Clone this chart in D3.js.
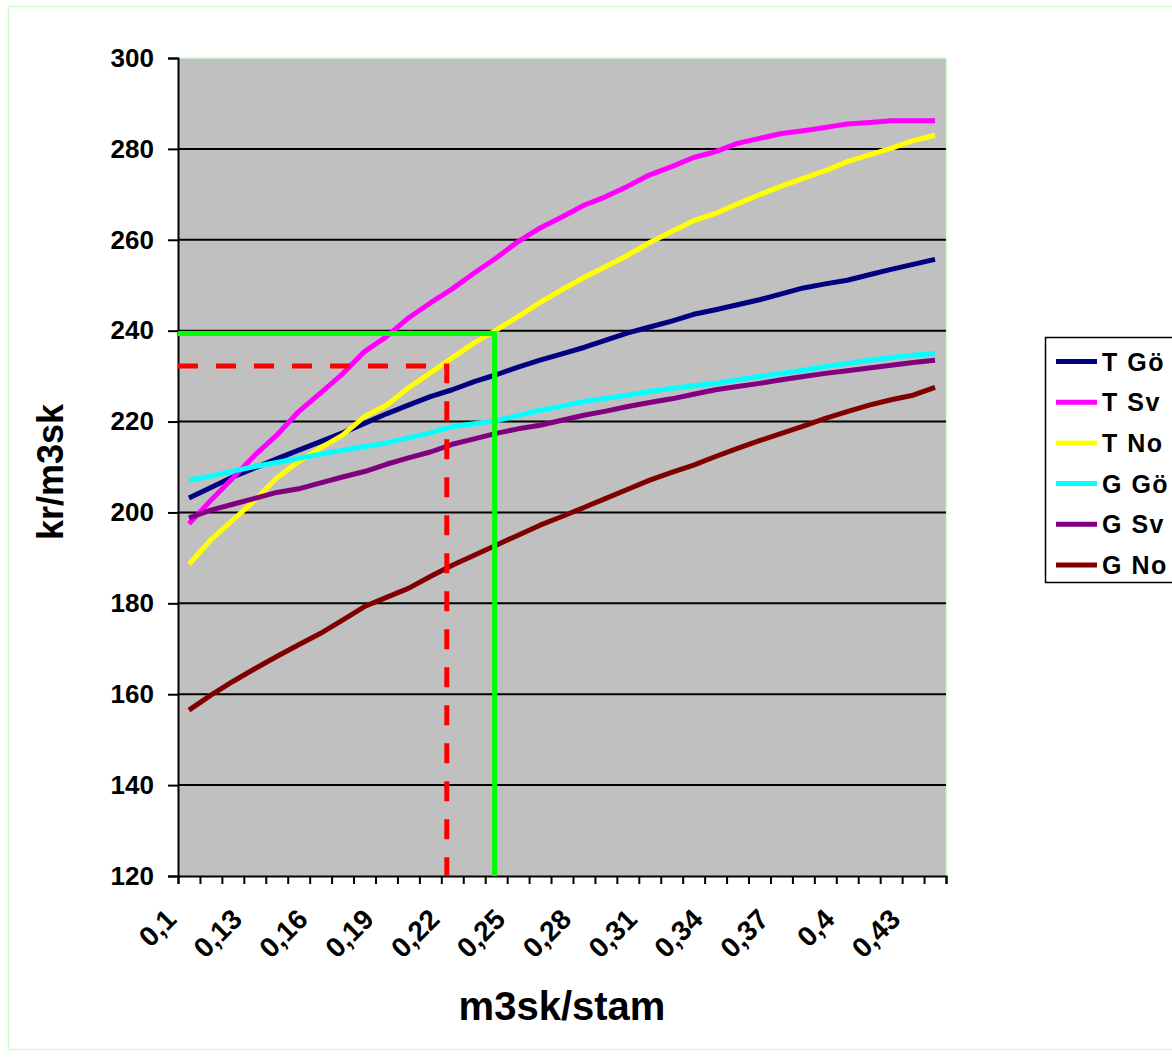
<!DOCTYPE html>
<html><head><meta charset="utf-8">
<script src="https://cdn.jsdelivr.net/npm/d3@7"></script>
<style>html,body{margin:0;padding:0;background:#fff;}svg{display:block;font-family:Arial,"Liberation Sans",sans-serif;}</style>
</head><body>
<svg id="chart" width="1172" height="1057"></svg>
<script>
const categories = [0.10,0.11,0.12,0.13,0.14,0.15,0.16,0.17,0.18,0.19,0.20,0.21,0.22,0.23,0.24,0.25,0.26,0.27,0.28,0.29,0.30,0.31,0.32,0.33,0.34,0.35,0.36,0.37,0.38,0.39,0.40,0.41,0.42,0.43,0.44];
const tickLabels = ["0,1","0,13","0,16","0,19","0,22","0,25","0,28","0,31","0,34","0,37","0,4","0,43"];
const yTicks = [120,140,160,180,200,220,240,260,280,300];
const seriesNames = ["T Gö","T Sv","T No","G Gö","G Sv","G No"];
const seriesColors = ["#000080","#ff00ff","#ffff00","#00ffff","#800080","#800000"];
const tGo = [203.2,205.5,207.8,209.8,211.8,213.7,215.6,217.5,219.6,221.7,223.6,225.5,227.0,228.8,230.3,232.0,233.5,234.9,236.3,237.9,239.5,240.8,242.1,243.6,244.6,245.7,246.8,248.1,249.4,250.3,251.1,252.3,253.5,254.6,255.7];
const tSv = [197.5,202.7,207.6,212.6,217.0,222.2,226.3,230.5,235.4,238.7,242.8,246.1,249.2,252.7,256.0,259.6,262.6,265.0,267.6,269.5,271.8,274.3,276.1,278.1,279.4,281.2,282.3,283.4,284.0,284.7,285.5,285.8,286.2,286.2,286.2];
const tNo = [188.6,194.0,198.3,202.7,207.6,211.2,214.2,217.0,221.1,223.6,227.4,230.7,234.0,237.3,240.1,243.1,246.2,249.0,251.7,254.1,256.6,259.4,261.8,264.2,265.8,267.9,269.9,271.8,273.5,275.2,277.2,278.7,280.1,281.8,283.0];
const gGo = [207.1,208.0,209.1,210.1,211.0,211.9,212.8,213.7,214.5,215.3,216.4,217.5,218.9,219.5,220.2,221.3,222.5,223.4,224.4,225.1,225.8,226.6,227.3,227.9,228.4,229.2,229.9,230.6,231.3,232.1,232.8,233.5,234.1,234.6,235.0];
const gSv = [198.8,200.5,201.8,203.1,204.4,205.2,206.5,207.8,209.0,210.6,212.0,213.3,215.0,216.2,217.4,218.4,219.2,220.3,221.4,222.3,223.3,224.2,225.0,226.0,227.0,227.7,228.4,229.2,229.9,230.6,231.2,231.8,232.4,233.0,233.5];
const gNo = [156.5,159.8,162.8,165.6,168.3,170.9,173.4,176.3,179.3,181.3,183.3,185.9,188.4,190.6,192.8,195.0,197.2,199.1,201.1,203.1,205.1,207.1,208.8,210.4,212.3,214.1,215.8,217.4,219.0,220.7,222.2,223.6,224.8,225.8,227.5];
const seriesValues = [tGo,tSv,tNo,gGo,gSv,gNo];
const greenRef = [0.2393, 239.4];
const redRef = [0.2175, 232.2];

const svg = d3.select("#chart");
const L = 178, R = 946, T = 58, B = 876;
const x = d3.scaleLinear().domain([0.095, 0.445]).range([L, R]);
const y = d3.scaleLinear().domain([120, 300]).range([B, T]);

// outer border
svg.append("rect").attr("x",8.5).attr("y",6.5).attr("width",1170).attr("height",1043)
  .attr("fill","none").attr("stroke","#ccffcc").attr("stroke-width",1.5);

// plot area
svg.append("rect").attr("x",L).attr("y",T).attr("width",R-L).attr("height",B-T).attr("fill","#c0c0c0");
svg.append("line").attr("x1",L).attr("x2",R).attr("y1",T).attr("y2",T).attr("stroke","#ccffcc").attr("stroke-width",1.5);
svg.append("line").attr("x1",R+0.5).attr("x2",R+0.5).attr("y1",T).attr("y2",B).attr("stroke","#ccffcc").attr("stroke-width",1.5);

// gridlines
svg.append("g").selectAll("line").data(yTicks.filter(v=>v>120 && v<300)).join("line")
  .attr("x1",L).attr("x2",R).attr("y1",d=>y(d)).attr("y2",d=>y(d))
  .attr("stroke","#000").attr("stroke-width",2);

// y axis
const yAxis = d3.axisLeft(y).tickValues(yTicks).tickSize(10).tickPadding(14).tickFormat(d3.format("d"));
const gy = svg.append("g").attr("transform",`translate(${L},0)`).call(yAxis);
gy.select(".domain").attr("stroke","#000").attr("stroke-width",2);
gy.selectAll(".tick line").attr("stroke","#000").attr("stroke-width",2);
gy.selectAll(".tick text").attr("font-size",26).attr("font-weight","bold").attr("fill","#000")
  .attr("font-family","Arial, 'Liberation Sans', sans-serif");

// x axis with ticks at category boundaries
const boundaries = d3.range(categories.length+1).map(i => 0.095 + i*0.01);
const xAxis = d3.axisBottom(x).tickValues(boundaries).tickSize(8).tickFormat("");
const gx = svg.append("g").attr("transform",`translate(0,${B})`).call(xAxis);
gx.select(".domain").attr("stroke","#000").attr("stroke-width",2);
gx.selectAll(".tick line").attr("stroke","#000").attr("stroke-width",2);

// x labels (every 3rd category)
const labelCats = categories.filter((c,i)=>i%3===0);
svg.append("g").selectAll("text").data(labelCats).join("text")
  .attr("transform",(d)=>`translate(${x(d)-11},${B+45}) rotate(-45)`)
  .attr("text-anchor","end")
  .attr("font-size",28).attr("font-weight","bold").attr("fill","#000")
  .text((d,i)=>tickLabels[i]);

// series lines
const line = d3.line().x((d,i)=>x(categories[i])).y(d=>y(d));
svg.append("g").selectAll("path").data(seriesValues).join("path")
  .attr("d",d=>line(d)).attr("fill","none")
  .attr("stroke",(d,i)=>seriesColors[i]).attr("stroke-width",5)
  .attr("stroke-linejoin","round");

// reference lines
svg.append("path")
  .attr("d",`M${L},${y(greenRef[1])}H${x(greenRef[0])}V${B}`)
  .attr("fill","none").attr("stroke","#00ff00").attr("stroke-width",5);
svg.append("path")
  .attr("d",`M${L},${y(redRef[1])}H${x(redRef[0])}V${B}`)
  .attr("fill","none").attr("stroke","#ff0000").attr("stroke-width",5)
  .attr("stroke-dasharray","20,18");

// axis titles
svg.append("text").attr("transform","translate(63,472) rotate(-90)")
  .attr("text-anchor","middle").attr("font-size",36).attr("font-weight","bold").text("kr/m3sk");
svg.append("text").attr("x",562).attr("y",1020)
  .attr("text-anchor","middle").attr("font-size",40).attr("font-weight","bold").text("m3sk/stam");

// legend
const lg = svg.append("g");
lg.append("rect").attr("x",1045.5).attr("y",337.5).attr("width",140).attr("height",245)
  .attr("fill","#fff").attr("stroke","#000").attr("stroke-width",1.5);
const items = lg.selectAll("g.item").data(seriesNames).join("g")
  .attr("transform",(d,i)=>`translate(0,${361.5 + i*40.7})`);
items.append("line").attr("x1",1056).attr("x2",1097).attr("y1",0).attr("y2",0)
  .attr("stroke",(d,i)=>seriesColors[i]).attr("stroke-width",5);
items.append("text").attr("x",1102).attr("y",9).attr("font-size",25).attr("letter-spacing",1.5)
  .attr("font-weight","bold").text(d=>d);
</script>
</body></html>
